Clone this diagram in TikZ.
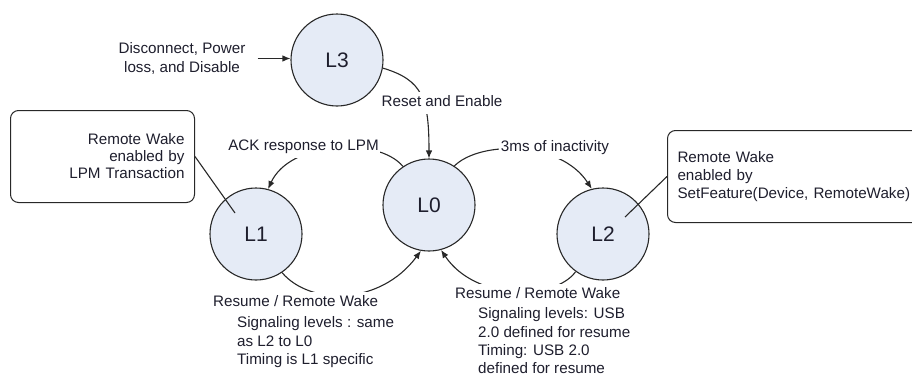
\documentclass[tikz,border=0pt]{standalone}
\usepackage{fontspec}
\setmainfont{Liberation Sans}
\usetikzlibrary{arrows.meta,calc}
\definecolor{stfill}{RGB}{229,235,246}
\definecolor{edgec}{RGB}{40,40,40}
\definecolor{txtc}{RGB}{30,30,45}
\begin{document}
\begin{tikzpicture}[x=1pt,y=-1pt,
  state/.style={circle,draw=edgec,line width=1.1pt,fill=stfill,minimum size=92pt,inner sep=0pt,text=txtc,font=\fontsize{21}{24}\selectfont},
  txt/.style={text=txtc,font=\fontsize{15.2}{18.3}\selectfont,inner sep=0pt},
  elabel/.style={txt,fill=white,inner xsep=1.5pt,inner ysep=4pt,text height=11pt,text depth=3.5pt},
  note/.style={draw=edgec,line width=1pt,rounded corners=8pt,txt,minimum height=92pt,inner xsep=10pt,anchor=north west},
  conn/.style={draw=edgec,line width=1.1pt},
  arr/.style={conn,-{Latex[length=8pt,width=6.5pt]}},
]
\useasboundingbox (0,0) rectangle (912,375);
% states
\node[state] (L3) at (337,60) {L3};
\node[state] (L0) at (429,205) {L0};
\node[state] (L1) at (256,234) {L1};
\node[state] (L2) at (603,234) {L2};
% notes
\node[note,text width=164pt,align=right,font=\fontsize{15.2}{17}\selectfont] (nL) at (10,110) {Remote Wake\\enabled by\\LPM Transaction};
\node[note,text width=243pt,align=left] (nR) at (667,130) {Remote Wake\\enabled by\\SetFeature(Device, RemoteWake)};
% transitions
\draw[arr] (L3.-10) .. controls +(40,12) and +(0,-60) .. (L0.north);
\draw[arr] (L0.124) .. controls +(-25,-30) and +(22,-48) .. (L1.75);
\draw[arr] (L0.57) .. controls +(25,-25) and +(-32,-49) .. (L2.104);
\draw[arr] (L1.-56) .. controls +(28,33) and +(-41,55) .. (L0.-100);
\draw[arr] (L2.-126) .. controls +(-21,29) and +(34,51) .. (L0.-75);
% callouts
\coordinate (p1) at (235,213);
\coordinate (p2) at (625,217);
\draw[conn] (nL.east) -- (p1);
\draw[conn] (nR.west) -- (p2);
% entry into L3
\node[txt,align=center] (dis) at (182,58.5) {Disconnect, Power\\loss, and Disable};
\draw[arr] ([xshift=12pt]dis.east) -- (dis.east -| L3.west);
% labels
\node[elabel] (lRE) at (442,103) {Reset and Enable};
\node[elabel] (lACK) at (303.5,147) {ACK response to LPM};
\node[elabel] (l3ms) at (555,148) {3ms of inactivity};
\node[elabel,anchor=west] (rL) at (211.5,303) {Resume / Remote Wake};
\node[txt,align=left,anchor=north west] (bL) at (237,316.5) {Signaling levels : same\\as L2 to L0\\Timing is L1 specific};
\node[elabel,anchor=west] (rR) at (453.5,295) {Resume / Remote Wake};
\node[txt,align=left,anchor=north west] (bR) at (478,307.5) {Signaling levels: USB\\2.0 defined for resume\\Timing: USB 2.0\\defined for resume};
\end{tikzpicture}
\end{document}
